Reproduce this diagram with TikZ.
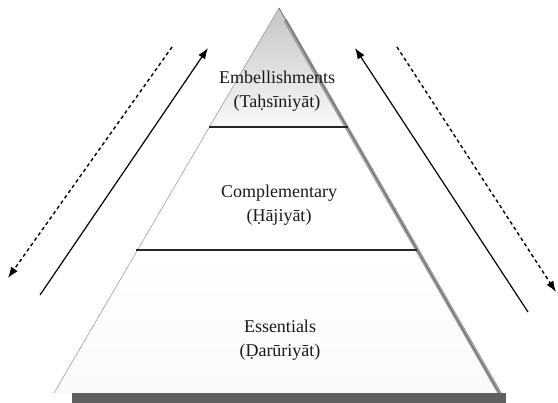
\documentclass[tikz,border=0pt]{standalone}
\usepackage{fontspec}
\setmainfont{Liberation Serif}
\usetikzlibrary{arrows.meta}
\begin{document}
\begin{tikzpicture}[x=1pt,y=-1pt,
  lbl/.style={font=\fontsize{18}{24}\selectfont, align=center, text=black!90},
  lvl/.style={line width=1.4pt, black!85},
  solidarr/.style={line width=1.2pt, -{Latex[length=11pt,width=8pt]}},
  dasharr/.style={line width=1.4pt, dash pattern=on 3.5pt off 3pt, -{Latex[length=11pt,width=8pt]}}]
\useasboundingbox (0,0) rectangle (558,403);
% pyramid geometry
\coordinate (A) at (279,8);
\coordinate (BL) at (54,393);
\coordinate (BR) at (499,393);
\coordinate (L1l) at (208.8,127);
\coordinate (L1r) at (348,127);
\coordinate (L2l) at (136.3,250);
\coordinate (L2r) at (417.3,250);
% fills
\shade[top color=gray!45, bottom color=gray!5] (A) -- (L1l) -- (L1r) -- cycle;
\shade[top color=white, middle color=gray!14, bottom color=white!96!gray] (L2l) -- (BL) -- (BR) -- (L2r) -- cycle;
% shadow of right side and base
\draw[gray!75, line width=4pt] (285,20) -- (503,399);
\fill[gray!75!black] (72,393) rectangle (506,403);
% outline
\draw[gray!75, line width=0.6pt] (BL) -- (A);
\draw[black!60, line width=0.7pt] (A) -- (BR);
\draw[lvl] (L1l) -- (L1r);
\draw[lvl] (L2l) -- (L2r);
% labels
\node[lbl] (emb) at (277,91) {Embellishments\\(Taḥsīniyāt)};
\node[lbl] (comp) at (279,205) {Complementary\\(Ḥājiyāt)};
\node[lbl] (ess) at (280,340) {Essentials\\(Ḍarūriyāt)};
% arrows
\coordinate (ls0) at (40,295);
\coordinate (ls1) at (208,48);
\coordinate (ld0) at (172,47);
\coordinate (ld1) at (8,278);
\coordinate (rs0) at (528,312);
\coordinate (rs1) at (355,48);
\coordinate (rd0) at (397,47);
\coordinate (rd1) at (556,292);
\draw[solidarr] (ls0) -- (ls1);
\draw[dasharr] (ld0) -- (ld1);
\draw[solidarr] (rs0) -- (rs1);
\draw[dasharr] (rd0) -- (rd1);
\end{tikzpicture}
\end{document}
